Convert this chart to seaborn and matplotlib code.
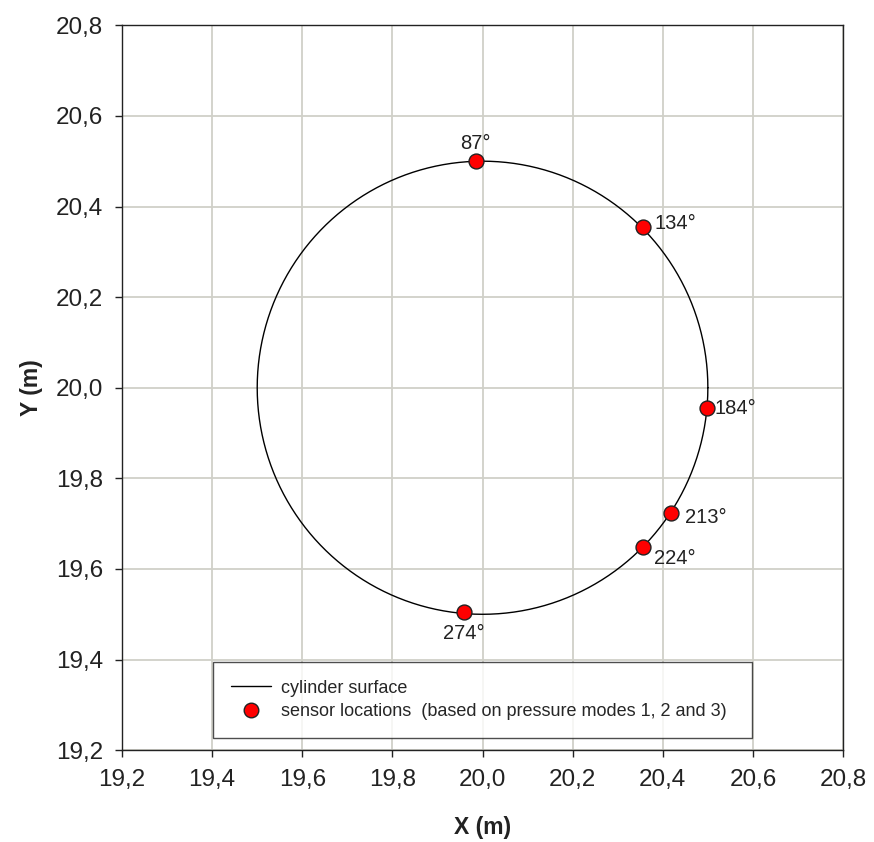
import numpy as np
import pandas as pd
import matplotlib
matplotlib.use("Agg")
import matplotlib.pyplot as plt
import seaborn as sns
from matplotlib.lines import Line2D

# ---- data ----
center_x = 20.0
center_y = 20.0
radius = 0.5
sensor_labels = ["87°", "134°", "184°", "213°", "224°", "274°"]
sensor_x = [19.985, 20.356, 20.499, 20.418, 20.356, 19.958]
sensor_y = [20.500, 20.354, 19.955, 19.723, 19.648, 19.504]
tick_values = [19.2, 19.4, 19.6, 19.8, 20.0, 20.2, 20.4, 20.6, 20.8]
tick_labels = ["19,2", "19,4", "19,6", "19,8", "20,0", "20,2", "20,4", "20,6", "20,8"]

theta = np.linspace(0, 2 * np.pi, 721)
circle = pd.DataFrame({"x": center_x + radius * np.cos(theta),
                       "y": center_y + radius * np.sin(theta)})
sensors = pd.DataFrame({"x": sensor_x, "y": sensor_y, "label": sensor_labels})

sns.set_theme(style="white")
plt.rcParams["font.family"] = ["Liberation Sans", "DejaVu Sans"]

fig = plt.figure(figsize=(8.74, 8.42), dpi=100)
ax = fig.add_axes([0.1396, 0.109, 0.825, 0.861])

sns.lineplot(data=circle, x="x", y="y", sort=False, estimator=None,
             color="black", linewidth=1.0, ax=ax, zorder=3)
sns.scatterplot(data=sensors, x="x", y="y", color="#ff0000", edgecolor="#222222",
                linewidth=1.0, s=115, ax=ax, zorder=4)

offsets = {"87°": (0, 6, "center", "bottom"),
           "134°": (8, 3, "left", "center"),
           "184°": (5, 0, "left", "center"),
           "213°": (10, -3, "left", "center"),
           "224°": (8, -8, "left", "center"),
           "274°": (0, -8, "center", "top")}
for _, r in sensors.iterrows():
    dx, dy, ha, va = offsets[r["label"]]
    ax.annotate(r["label"], (r["x"], r["y"]), xytext=(dx, dy),
                textcoords="offset points", ha=ha, va=va, fontsize=14.5,
                color="#222222", zorder=5)

ax.set_xlim(19.2, 20.8)
ax.set_ylim(19.2, 20.8)
ax.set_xticks(tick_values)
ax.set_yticks(tick_values)
ax.set_xticklabels(tick_labels)
ax.set_yticklabels(tick_labels)
ax.tick_params(axis="both", which="both", direction="out", length=5, width=1,
               color="#222222", labelsize=17.5, labelcolor="#222222", pad=8.5,
               bottom=True, left=True)
ax.grid(True, color="#d0d0c8", linewidth=1.3, zorder=0)
ax.set_axisbelow(True)
for s in ax.spines.values():
    s.set_color("#222222")
    s.set_linewidth(1.0)

ax.set_xlabel("X (m)", fontsize=16.5, fontweight="bold", labelpad=18, color="#222222")
ax.set_ylabel("Y (m)", fontsize=16.5, fontweight="bold", labelpad=9, color="#222222")

handles = [Line2D([0], [0], color="black", linewidth=1.0),
           Line2D([0], [0], marker="o", linestyle="none", markerfacecolor="#ff0000",
                  markeredgecolor="#222222", markersize=10.5)]
leg = ax.legend(handles, ["cylinder surface",
                          "sensor locations  (based on pressure modes 1, 2 and 3)"],
                loc="lower left", bbox_to_anchor=(0.126, 0.0166, 0.748, 0.1),
                mode="expand", fontsize=13, frameon=True, fancybox=False,
                handlelength=2.2, handletextpad=0.6, borderpad=1.0,
                labelspacing=0.35, borderaxespad=0)
leg.get_frame().set_edgecolor("#222222")
leg.get_frame().set_linewidth(1.0)
leg.set_zorder(6)

fig.savefig("out.png", dpi=100)
